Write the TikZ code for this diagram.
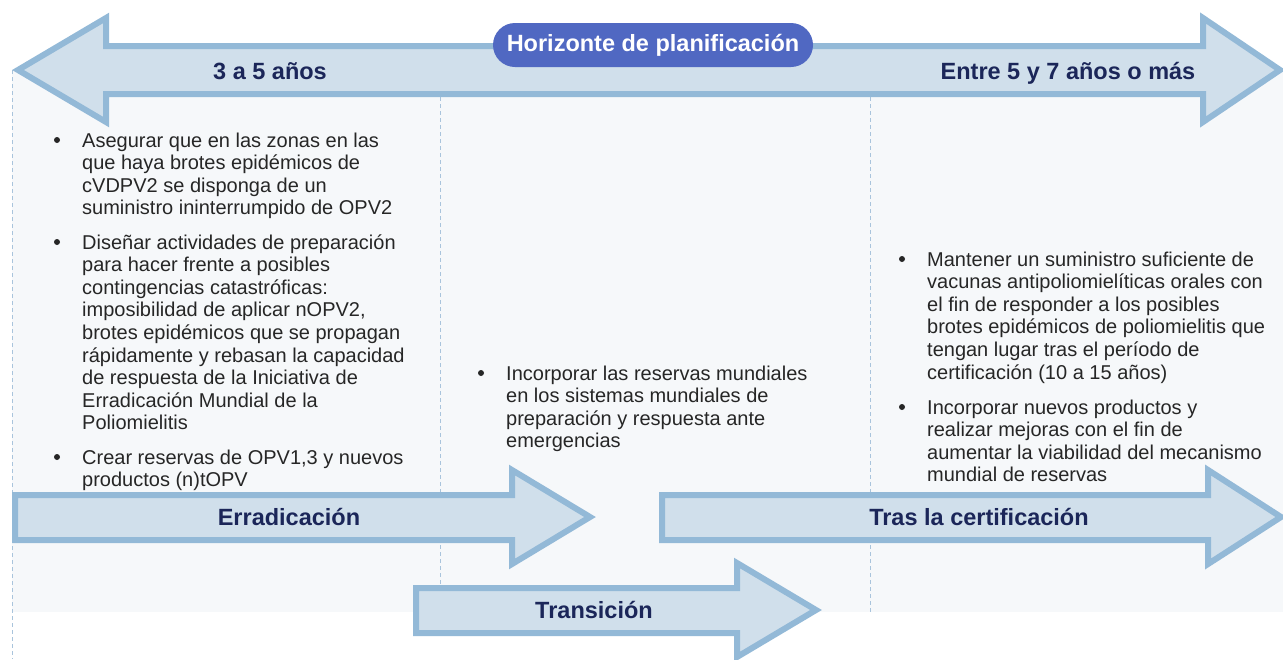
\documentclass[tikz,border=0pt]{standalone}
\usepackage{fontspec}
\setmainfont{Liberation Sans}
\definecolor{arrowline}{HTML}{93B9D7}
\definecolor{arrowfill}{HTML}{D0DFEB}
\definecolor{panel}{HTML}{F6F8FA}
\definecolor{dashc}{HTML}{A9C4DC}
\definecolor{pill}{HTML}{5068C2}
\definecolor{labelc}{HTML}{1B2659}
\definecolor{txt}{HTML}{262626}
\begin{document}
\begin{tikzpicture}[x=1pt,y=-1pt,
  bigarrow/.style={draw=arrowline,fill=arrowfill,line width=6pt,line join=miter},
  divider/.style={draw=dashc,line width=1pt,dash pattern=on 4pt off 3pt},
  label/.style={text=labelc,font=\fontsize{23.5}{28}\selectfont\bfseries,inner sep=0pt,anchor=base},
  para/.style={text=txt,font=\fontsize{20}{22.6}\selectfont,align=left,inner sep=0pt,anchor=base west},
  dot/.style={circle,fill=txt,inner sep=0pt,minimum size=6pt}]
\useasboundingbox (0,0) rectangle (1283,659);
\clip (0,0) rectangle (1283,659);
% panel
\fill[panel] (12,70) rectangle (1283,612);
% dividers
\draw[divider] (12,70) -- (12,659);
\draw[divider] (440,97) -- (440,612);
\draw[divider] (870,97) -- (870,612);
% top double arrow
\draw[bigarrow] (18,70) -- (106,18) -- (106,46) -- (1203,46) -- (1203,18) -- (1280,70)
  -- (1203,122) -- (1203,94) -- (106,94) -- (106,122) -- cycle;
\node[label] (lt) at (270,79) {3 a 5 años};
\node[label] (rt) at (1068,79) {Entre 5 y 7 años o más};
\node[fill=pill,rounded corners=22pt,minimum width=320pt,minimum height=44pt,inner sep=0pt,
  text=white,font=\fontsize{23.5}{28}\selectfont\bfseries] (hz) at (653,45) {Horizonte de planificación};
% column 1 (para nodes are placed at the baseline of their last line)
\node[dot] (b11) at (57,140) {};
\node[para] (c1p1) at (82,214.8) {Asegurar que en las zonas en las\\que haya brotes epidémicos de\\cVDPV2 se disponga de un\\suministro ininterrumpido de OPV2};
\node[dot] (b12) at (57,242) {};
\node[para] (c1p2) at (82,429.8) {Diseñar actividades de preparación\\para hacer frente a posibles\\contingencias catastróficas:\\imposibilidad de aplicar nOPV2,\\brotes epidémicos que se propagan\\rápidamente y rebasan la capacidad\\de respuesta de la Iniciativa de\\Erradicación Mundial de la\\Poliomielitis};
\node[dot] (b13) at (57,457) {};
\node[para] (c1p3) at (82,486.6) {Crear reservas de OPV1,3 y nuevos\\productos (n)tOPV};
% column 2
\node[dot] (b21) at (481,373) {};
\node[para] (c2p1) at (506,447.8) {Incorporar las reservas mundiales\\en los sistemas mundiales de\\preparación y respuesta ante\\emergencias};
% column 3
\node[dot] (b31) at (902,259) {};
\node[para] (c3p1) at (927,379) {Mantener un suministro suficiente de\\vacunas antipoliomielíticas orales con\\el fin de responder a los posibles\\brotes epidémicos de poliomielitis que\\tengan lugar tras el período de\\certificación (10 a 15 años)};
\node[dot] (b32) at (902,407) {};
\node[para] (c3p2) at (927,481.8) {Incorporar nuevos productos y\\realizar mejoras con el fin de\\aumentar la viabilidad del mecanismo\\mundial de reservas};
% phase arrows
\draw[bigarrow] (15,495) -- (512,495) -- (512,470) -- (590,517) -- (512,564) -- (512,540) -- (15,540) -- cycle;
\node[label] (er) at (289,525) {Erradicación};
\draw[bigarrow] (662,495) -- (1208,495) -- (1208,470) -- (1281,517) -- (1208,564) -- (1208,540) -- (662,540) -- cycle;
\node[label] (tc) at (979,525) {Tras la certificación};
\draw[bigarrow] (416,588) -- (737,588) -- (737,563) -- (816,610) -- (737,657) -- (737,633) -- (416,633) -- cycle;
\node[label] (tr) at (594,618) {Transición};
\end{tikzpicture}
\end{document}
